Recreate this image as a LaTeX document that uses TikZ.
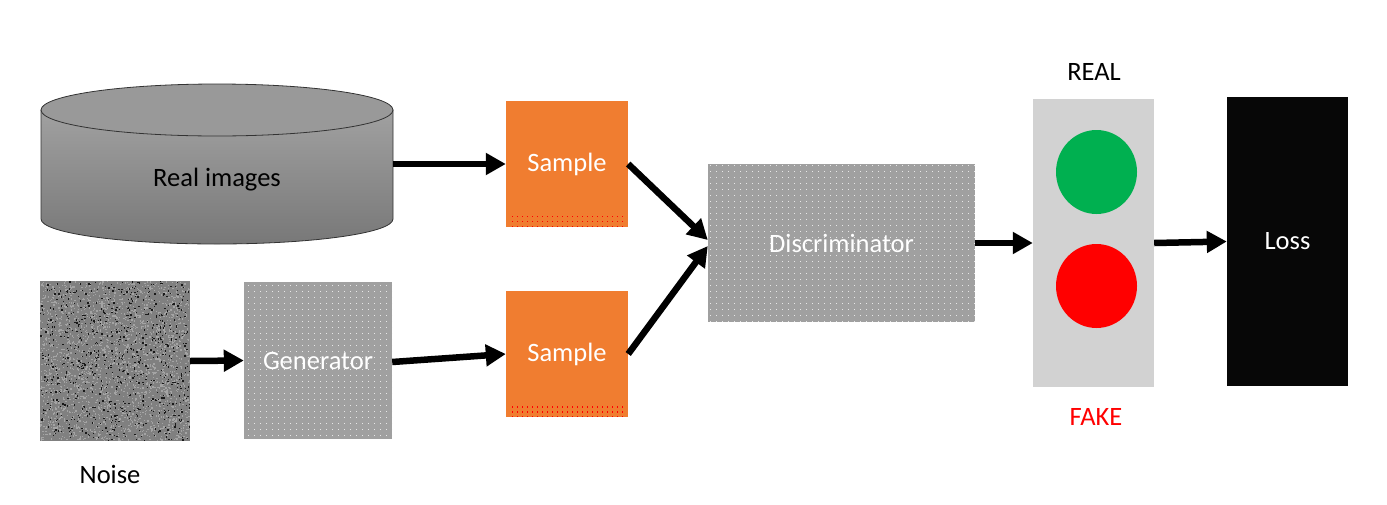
\documentclass[tikz,border=0pt]{standalone}
\usepackage{fontspec}
\setmainfont{Carlito}
\usetikzlibrary{arrows.meta,patterns}
\definecolor{sampleorange}{HTML}{F07D30}
\definecolor{boxgray}{HTML}{A0A0A0}
\definecolor{lightgray2}{HTML}{D2D2D2}
\definecolor{lossblack}{HTML}{070707}
\definecolor{greenlight}{HTML}{00B050}
\definecolor{redlight}{HTML}{FF0000}
\definecolor{noisegray}{HTML}{808080}
\definecolor{noiselight}{HTML}{A4A4A4}
\pgfdeclarepatternformonly{sdots}{\pgfqpoint{-0.1pt}{-0.1pt}}{\pgfqpoint{6.1pt}{6.1pt}}{\pgfqpoint{6pt}{6pt}}{%
  \pgfpathrectangle{\pgfqpoint{2pt}{2pt}}{\pgfqpoint{1.1pt}{1.1pt}}\pgfusepath{fill}}
\pgfdeclarepatternformonly{rdots}{\pgfqpoint{-0.1pt}{-0.1pt}}{\pgfqpoint{5.1pt}{5.1pt}}{\pgfqpoint{5pt}{5pt}}{%
  \pgfpathrectangle{\pgfqpoint{1.5pt}{1.5pt}}{\pgfqpoint{1.2pt}{1.2pt}}\pgfusepath{fill}}
\tikzset{
  lbl/.style={font=\fontsize{26.5}{30}\selectfont},
  graybox/.style={fill=boxgray, postaction={pattern=sdots, pattern color=white!75!boxgray}, inner sep=0pt, text=white, lbl},
  samplebox/.style={fill=sampleorange, inner sep=0pt, minimum width=122pt, minimum height=126pt, text=white, lbl, text height=18pt, text depth=3pt},
  flow/.style={line width=6.5pt, -{Triangle[length=20pt,width=21pt]}, black},
}
\begin{document}
\begin{tikzpicture}[x=1pt,y=-1pt]
\useasboundingbox (0,0) rectangle (1387,504);
% cylinder
\shade[top color=black!37, bottom color=black!53, draw=black!80, line width=0.8pt]
  (41,110) -- (41,219) arc[start angle=180, end angle=360, x radius=176pt, y radius=25pt] -- (393,110) -- cycle;
\fill[black!40, draw=black!80, line width=0.8pt] (217,110) ellipse[x radius=176pt, y radius=26pt];
\node[inner sep=0pt, minimum width=352pt, minimum height=150pt] (cyl) at (217,163) {};
\node[lbl, text=black] (cyltext) at (217,180) {Real images};
% noise
\node[fill=noisegray, inner sep=0pt, minimum width=150pt, minimum height=160pt] (noise) at (115,361) {};
\pgfmathsetseed{11}
\foreach \i in {1,...,2400} {\fill[noiselight] ({40+149*rnd},{281+159*rnd}) rectangle ++(1.3,1.3);}
\foreach \i in {1,...,800} {\fill[black!90] ({40+149*rnd},{281+159*rnd}) rectangle ++(1.3,1.3);}
\node[lbl, text=black] (noisetext) at (110,474) {Noise};
% generator
\node[graybox, minimum width=148pt, minimum height=157pt] (gen) at (318,360.5) {Generator};
% samples
\node[samplebox] (s1) at (567,164) {Sample};
\node[samplebox] (s2) at (567,354) {Sample};
\fill[pattern=rdots, pattern color=red] (508,216) rectangle (626,226);
\fill[pattern=rdots, pattern color=red] (508,406) rectangle (626,416);
% discriminator
\node[graybox, minimum width=267pt, minimum height=158pt] (disc) at (841.5,243) {Discriminator};
% traffic light
\node[fill=lightgray2, inner sep=0pt, minimum width=121pt, minimum height=288pt] (light) at (1093.5,243) {};
\fill[greenlight] (1096.5,172) ellipse[x radius=40.5pt, y radius=42pt];
\fill[redlight] (1096.5,286) ellipse[x radius=40.5pt, y radius=42pt];
\node[lbl, text=black] (real) at (1094,72) {REAL};
\node[lbl, text=redlight] (fake) at (1096,417) {FAKE};
% loss
\node[fill=lossblack, inner sep=0pt, minimum width=121pt, minimum height=289pt, text=white, lbl] (loss) at (1287.5,241.5) {Loss};
% arrows
\draw[flow] (cyl.east |- s1.west) -- (s1.west);
\draw[flow] (noise.east) -- (gen.west);
\draw[flow] ([yshift=-1.5pt]gen.east) -- (s2.west);
\draw[flow] (s1.east) -- ([yshift=3pt]disc.west);
\draw[flow] (s2.east) -- ([yshift=-3pt]disc.west);
\draw[flow] (disc.east) -- (light.west);
\draw[flow] (light.east) -- (loss.west);
\end{tikzpicture}
\end{document}
